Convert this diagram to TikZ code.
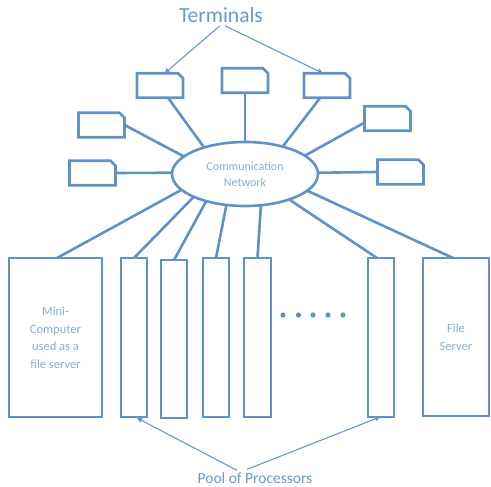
\documentclass[tikz,border=0pt]{standalone}
\usepackage{fontspec}
\setmainfont{Carlito}
\usetikzlibrary{shapes.geometric,arrows.meta,calc}
\definecolor{linecol}{RGB}{96,146,200}
\definecolor{txtcol}{RGB}{135,172,212}
\definecolor{labcol}{RGB}{104,152,206}
\tikzset{
  term/.style={rectangle, minimum width=46pt, minimum height=24.5pt,
    inner sep=0pt, outer sep=0pt},
  termline/.style={draw=linecol, line width=2.6pt, line join=miter},
  box/.style={draw=linecol, line width=2.6pt, rectangle, inner sep=0pt, outer sep=0pt, fill=white},
  conn/.style={draw=linecol, line width=2.6pt},
  pointer/.style={draw=labcol, line width=1.1pt, -{Triangle[length=5pt,width=5pt]}},
  boxtext/.style={text=txtcol, font=\fontsize{12.5}{17.5}\selectfont, align=center},
}
\begin{document}
\begin{tikzpicture}[x=1pt,y=-1pt]
\useasboundingbox (0,0) rectangle (491,487);
% network
\node[draw=linecol, line width=2.6pt, ellipse, minimum width=146pt, minimum height=64pt, inner sep=0pt, outer sep=0pt, fill=white,
  text=txtcol, font=\fontsize{12}{16}\selectfont, align=center] (net) at (245,174) {Communication\\Network};
% terminals
\node[term] (t1) at (160,85.5) {};
\node[term] (t2) at (245,80.5) {};
\node[term] (t3) at (327,85.5) {};
\node[term] (t4) at (101.5,125) {};
\node[term] (t5) at (92.5,173) {};
\node[term] (t6) at (387.5,118.5) {};
\node[term] (t7) at (400.5,172) {};
\foreach \t in {t1,t2,t3,t4,t5,t6,t7}
  \draw[termline] (\t.south west) -- (\t.north west) -- ([xshift=-5pt]\t.north east)
    -- ([yshift=-5pt]\t.north east) -- (\t.south east) -- cycle;
% bottom boxes
\node[box, minimum width=93pt, minimum height=159pt, boxtext] (mini) at (55.5,337.5) {Mini-\\Computer\\used as a\\file server};
\node[box, minimum width=26pt, minimum height=159pt] (p1) at (134,337.5) {};
\node[box, minimum width=26pt, minimum height=158pt] (p2) at (174,339) {};
\node[box, minimum width=26pt, minimum height=159pt] (p3) at (216,337.5) {};
\node[box, minimum width=27pt, minimum height=159pt] (p4) at (257.5,337.5) {};
\node[box, minimum width=26pt, minimum height=159pt] (p5) at (381,337.5) {};
\node[box, minimum width=66pt, minimum height=158pt, boxtext] (fs) at (456,337) {File\\Server};
% dots
\foreach \dx in {283,298.5,313,328,343} \fill[linecol] (\dx,315) circle (2.6);
% connectors terminals
\draw[conn] (t1.-57) -- (net.147);
\draw[conn] (t2.south) -- (net.90);
\draw[conn] (t3.241) -- (net.36);
\draw[conn] (t4.east) -- (net.164);
\draw[conn] (t5.east) -- (net.179);
\draw[conn] (t6.190) -- (net.17);
\draw[conn] (t7.west) -- (net.1);
% connectors boxes
\draw[conn] ($(mini.north)+(1.5,0)$) -- (net.194);
\draw[conn] (p1.north) -- (net.204);
\draw[conn] (p2.north) -- (net.215);
\draw[conn] (p3.north) -- (net.239);
\draw[conn] (p4.north) -- (net.297);
\draw[conn] ($(p5.north)+(-4,0)$) -- (net.330);
\draw[conn] ($(fs.north)+(-3,0)$) -- (net.345);
% labels
\node[text=labcol, font=\fontsize{21.5}{24}\selectfont, inner sep=0pt] (terms) at (221,15) {Terminals};
\node[text=labcol, font=\fontsize{15.5}{18}\selectfont, inner sep=0pt] (pool) at (255,478) {Pool of Processors};
\coordinate (ts1) at ($(terms.south)+(-1,3)$);
\coordinate (ts2) at ($(terms.south)+(4,3)$);
\draw[pointer] (ts1) -- ($(t1.north west)!0.6!(t1.north east)$);
\draw[pointer] (ts2) -- ($(t3.north west)!0.41!(t3.north east)$);
\coordinate (ps1) at ($(pool.north)+(-18,-2)$);
\coordinate (ps2) at ($(pool.north)+(-8,-3)$);
\draw[pointer] (ps1) -- ($(p1.south)+(3,1)$);
\draw[pointer] (ps2) -- ($(p5.south)+(-1,0)$);
\end{tikzpicture}
\end{document}
